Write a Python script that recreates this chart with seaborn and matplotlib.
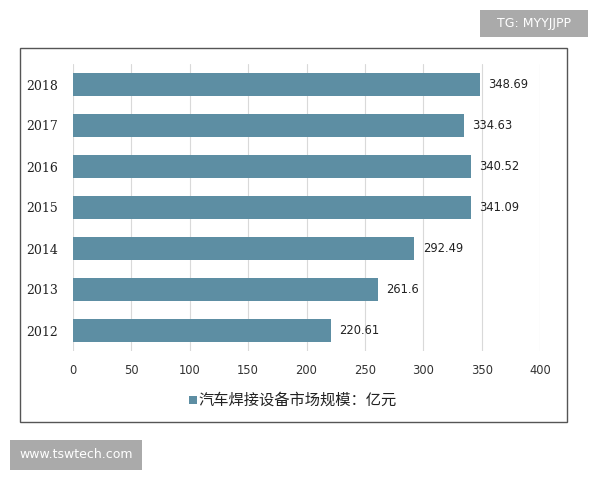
import matplotlib
matplotlib.use("Agg")
import matplotlib.pyplot as plt
import seaborn as sns
import pandas as pd
from matplotlib.patches import Rectangle

years = ["2018", "2017", "2016", "2015", "2014", "2013", "2012"]
values = [348.69, 334.63, 340.52, 341.09, 292.49, 261.6, 220.61]
value_labels = ["348.69", "334.63", "340.52", "341.09", "292.49", "261.6", "220.61"]
xticks = [0, 50, 100, 150, 200, 250, 300, 350, 400]
legend_label = "汽车焊接设备市场规模：亿元"

sns.set_theme(style="white")
plt.rcParams['font.family'] = ['Noto Sans CJK SC', 'DejaVu Sans']

df = pd.DataFrame({"year": years, "value": values})

fig = plt.figure(figsize=(6, 4.8), dpi=100)
ax = fig.add_axes([73/600, 1-351/480, (540-73)/600, (351-64)/480])

bar_color = "#5d8ea3"
sns.barplot(data=df, x="value", y="year", order=years, color=bar_color,
            width=0.58, saturation=1, linewidth=0, ax=ax, zorder=2)

ax.set_xlim(0, 400)
ax.set_xticks(xticks)
ax.set_xticklabels([str(t) for t in xticks], fontsize=8.3, color="#333333", family=["DejaVu Sans"])
ax.set_yticklabels(years, fontsize=9, color="#222222", family=["DejaVu Serif"])
ax.tick_params(axis="both", length=0, pad=9)
ax.tick_params(axis="y", pad=11)
ax.set_xlabel("")
ax.set_ylabel("")
ax.xaxis.grid(True, color="#d9d9d9", linewidth=0.8, zorder=0)
ax.set_axisbelow(True)
for s in ax.spines.values():
    s.set_visible(False)

for i, (v, lab) in enumerate(zip(values, value_labels)):
    ax.text(v + 7, i, lab, va="center", ha="left", fontsize=8.3, color="#222222",
            family=["DejaVu Sans"])

# legend
fig.patches.append(Rectangle((189/600, 1-404/480), 8/600, 8/480, transform=fig.transFigure,
                             facecolor=bar_color, edgecolor="none"))
fig.text(198/600, 1-400/480, legend_label, fontsize=11, va="center", ha="left", color="#222222")

# outer border box
fig.patches.append(Rectangle((20/600, 1-422/480), (567-20)/600, (422-48)/480, transform=fig.transFigure,
                             facecolor="none", edgecolor="#555555", linewidth=1.0))

# watermarks
fig.patches.append(Rectangle((480/600, 1-37/480), (588-480)/600, 27/480, transform=fig.transFigure,
                             facecolor="#aaaaaa", edgecolor="none"))
fig.text(534/600, 1-23.5/480, "TG: MYYJJPP", fontsize=9, color="white", ha="center", va="center",
         family=["DejaVu Sans"])
fig.patches.append(Rectangle((10/600, 1-470/480), (142-10)/600, 30/480, transform=fig.transFigure,
                             facecolor="#aaaaaa", edgecolor="none"))
fig.text(76/600, 1-455/480, "www.tswtech.com", fontsize=9, color="white", ha="center", va="center",
         family=["DejaVu Sans"])

fig.savefig("out.png", dpi=100)
